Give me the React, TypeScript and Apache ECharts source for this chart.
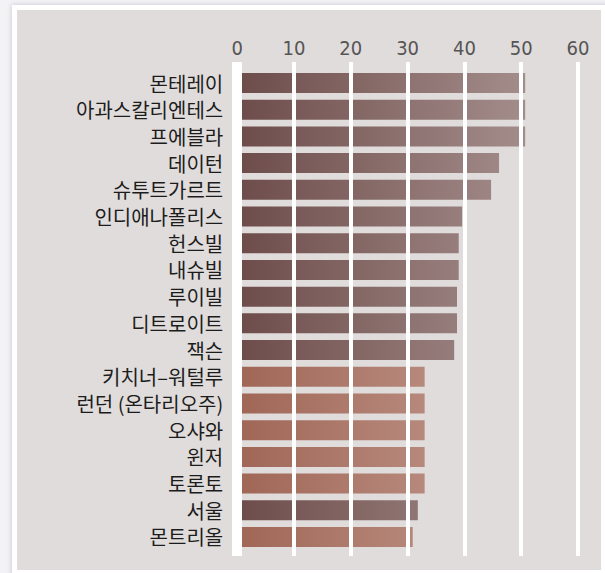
import React, { useEffect, useRef } from "react";
import * as echarts from "echarts";

// Cities, ranked by index value
const cities = [
  "몬테레이",
  "아과스칼리엔테스",
  "프에블라",
  "데이턴",
  "슈투트가르트",
  "인디애나폴리스",
  "헌스빌",
  "내슈빌",
  "루이빌",
  "디트로이트",
  "잭슨",
  "키치너–워털루",
  "런던 (온타리오주)",
  "오샤와",
  "윈저",
  "토론토",
  "서울",
  "몬트리올",
];

const values = [
  50.7, 50.7, 50.7, 46.1, 44.7, 39.6, 39.0, 39.0, 38.7, 38.7, 38.2, 33.0, 33.0,
  33.0, 33.0, 33.0, 31.8, 30.9,
];

// Country of each city; Canadian cities get the copper palette
const countries = [
  "멕시코", "멕시코", "멕시코", "미국", "독일", "미국", "미국", "미국", "미국",
  "미국", "미국", "캐나다", "캐나다", "캐나다", "캐나다", "캐나다", "한국", "캐나다",
];

const axisTicks = [0, 10, 20, 30, 40, 50, 60];

// gradient endpoints: colour at 0 and colour at the top value
const palettes: Record<string, [number[], number[]]> = {
  default: [
    [0x6d, 0x4c, 0x4a],
    [0xa3, 0x8d, 0x8b],
  ],
  canada: [
    [0xa0, 0x66, 0x56],
    [0xc2, 0x9c, 0x90],
  ],
};

const toHex = (c: number[]) =>
  "#" + c.map((v) => Math.round(v).toString(16).padStart(2, "0")).join("");

const maxValue = Math.max(...values);

function barColor(value: number, country: string) {
  const [from, to] = palettes[country === "캐나다" ? "canada" : "default"];
  const t = value / maxValue;
  const end = from.map((v, i) => v + (to[i] - v) * t);
  return new echarts.graphic.LinearGradient(1, 0, 0, 0, [
    { offset: 0, color: toHex(end) },
    { offset: 1, color: toHex(from) },
  ]);
}

export default function App() {
  const ref = useRef<HTMLDivElement>(null);

  useEffect(() => {
    if (!ref.current) return;
    const chart = echarts.init(ref.current, null, { renderer: "svg" });

    const option: echarts.EChartsCoreOption = {
      animation: false,
      backgroundColor: "#e0dcdb",
      grid: [
        { left: 220.2, right: 23, top: 59.65, bottom: 19.65 },
        { left: 220.2, right: 23, top: 52, bottom: 14 },
      ],
      xAxis: [
        {
          gridIndex: 0,
          type: "value",
          min: 0,
          max: 60,
          interval: 10,
          show: false,
        },
        {
          gridIndex: 1,
          type: "value",
          min: 0,
          max: 60,
          interval: 10,
          position: "top",
          z: 5,
          axisLine: { show: false },
          axisTick: { show: false },
          axisLabel: {
            margin: 14,
            color: "#555",
            fontFamily: "'Liberation Sans Narrow', 'DejaVu Sans Condensed', sans-serif",
            fontSize: 20,
            verticalAlign: "middle",
            formatter: (v: number) => (axisTicks.includes(v) ? String(v) : ""),
          },
          splitLine: {
            show: true,
            lineStyle: { color: "#ffffff", width: 4, cap: "butt" },
          },
        },
      ],
      yAxis: [
        {
          gridIndex: 0,
          type: "category",
          data: cities,
          inverse: true,
          axisLine: { show: false },
          axisTick: { show: false },
          axisLabel: {
            margin: 14,
            color: "#1c1c1c",
            fontFamily: "'Noto Sans CJK KR', sans-serif",
            fontSize: 20,
          },
        },
        {
          gridIndex: 1,
          type: "value",
          min: 0,
          max: 1,
          z: 6,
          offset: 2.2,
          axisLine: {
            show: true,
            lineStyle: { color: "#ffffff", width: 10, cap: "butt" },
          },
          axisTick: { show: false },
          axisLabel: { show: false },
          splitLine: { show: false },
        },
      ],
      series: [
        {
          type: "bar",
          xAxisIndex: 0,
          yAxisIndex: 0,
          barWidth: 20,
          z: 2,
          data: values.map((v, i) => ({
            value: v,
            itemStyle: { color: barColor(v, countries[i]) },
          })),
        },
      ],
    };

    chart.setOption(option);
    return () => chart.dispose();
  }, []);

  return (
    <div
      style={{
        position: "fixed",
        left: 0,
        top: 0,
        width: 605,
        height: 573,
        background: "#f3f3f5",
        overflow: "hidden",
      }}
    >
      <div
        style={{
          position: "absolute",
          left: 12,
          top: 5,
          width: 600,
          height: 580,
          background: "#ffffff",
          boxShadow: "0 0 5px rgba(110, 115, 150, 0.35)",
        }}
      />
      <div
        ref={ref}
        style={{
          position: "absolute",
          left: 17,
          top: 10,
          width: 584,
          height: 560,
        }}
      />
    </div>
  );
}
